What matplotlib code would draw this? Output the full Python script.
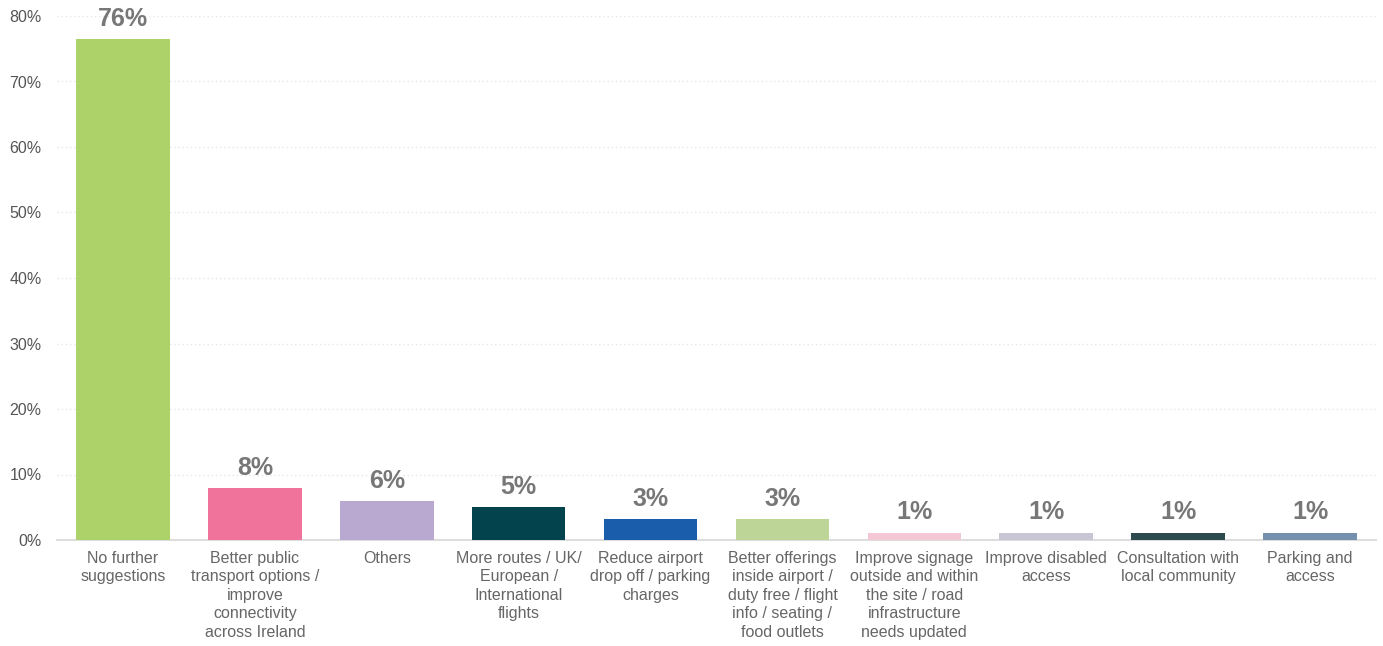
import matplotlib.pyplot as plt

plt.rcParams['font.family'] = ['Liberation Sans', 'DejaVu Sans']

categories = [
    'No further\nsuggestions',
    'Better public\ntransport options /\nimprove\nconnectivity\nacross Ireland',
    'Others',
    'More routes / UK/\nEuropean /\nInternational\nflights',
    'Reduce airport\ndrop off / parking\ncharges',
    'Better offerings\ninside airport /\nduty free / flight\ninfo / seating /\nfood outlets',
    'Improve signage\noutside and within\nthe site / road\ninfrastructure\nneeds updated',
    'Improve disabled\naccess',
    'Consultation with\nlocal community',
    'Parking and\naccess',
]
values = [76.5, 7.9, 5.95, 5.0, 3.2, 3.2, 1.1, 1.1, 1.1, 1.1]
labels = ['76%', '8%', '6%', '5%', '3%', '3%', '1%', '1%', '1%', '1%']
colors = ['#AED26A', '#F0739B', '#B9A9D1', '#02434E', '#1A5EAB',
          '#BED598', '#F4C7D5', '#C8C5D4', '#2D4A4E', '#7590AE']

fig = plt.figure(figsize=(13.83, 6.46), dpi=100)
ax = fig.add_axes([57 / 1383, 1 - 540 / 646, 1319 / 1383, 524 / 646])

x = range(len(categories))
bars = ax.bar(x, values, width=0.71, color=colors, zorder=3)

for b, lab in zip(bars, labels):
    ax.annotate(lab, (b.get_x() + b.get_width() / 2, b.get_height()),
                xytext=(0, 6), textcoords='offset points', ha='center', va='bottom',
                fontsize=18, fontweight='bold', color='#777777')

ax.set_xlim(-0.5, len(categories) - 0.5)
ax.set_ylim(0, 80)
ax.set_yticks(range(0, 81, 10))
ax.set_yticklabels([f'{v}%' for v in range(0, 81, 10)])
ax.set_xticks(list(x))
ax.set_xticklabels(categories, linespacing=1.28)

ax.grid(axis='y', color='#e6e6e6', linestyle=(0, (1, 2)), linewidth=1, zorder=0)
for s in ['top', 'right', 'left']:
    ax.spines[s].set_visible(False)
ax.spines['bottom'].set_color('#dddddd')
ax.spines['bottom'].set_linewidth(1.5)
ax.tick_params(axis='both', length=0, labelsize=11.5, colors='#555555')
ax.tick_params(axis='x', pad=8, colors='#666666')
ax.tick_params(axis='y', pad=11)

fig.savefig('out.png', dpi=100)
